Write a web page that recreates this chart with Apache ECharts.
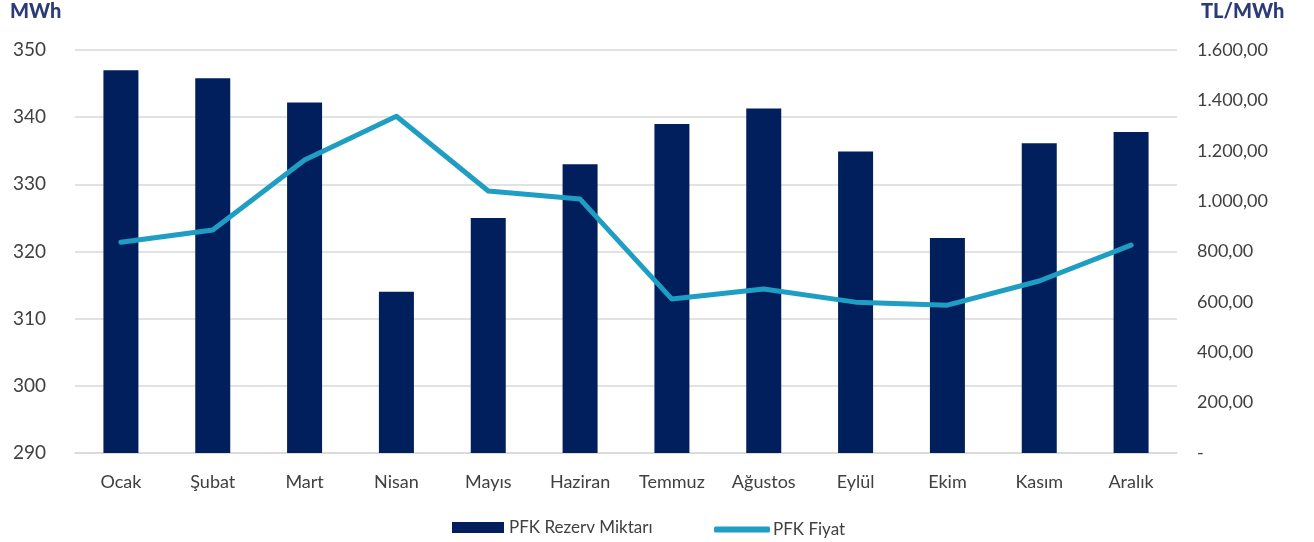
<!DOCTYPE html>
<html><head><meta charset="utf-8">
<script src="https://cdn.jsdelivr.net/npm/echarts@6/dist/echarts.min.js"></script>
<style>html,body{margin:0;padding:0;background:#fff}#c{width:1314px;height:542px}</style>
</head><body><div id="c"></div>
<script>
const categories = ['Ocak','Şubat','Mart','Nisan','Mayıs','Haziran','Temmuz','Ağustos','Eylül','Ekim','Kasım','Aralık'];
const rezervMiktari = [347.0, 345.8, 342.2, 314.0, 325.0, 333.0, 339.0, 341.3, 334.9, 322.0, 336.1, 337.8];
const fiyat = [837, 885, 1163, 1337, 1040, 1008, 611, 651, 599, 587, 683, 825];
const seriesNames = ['PFK Rezerv Miktarı', 'PFK Fiyat'];
const leftUnit = 'MWh';
const rightUnit = 'TL/MWh';

const font = 'Lato, "Open Sans", sans-serif';
const txt = '#404040';
function fmtTL(v){
  if (v === 0) return '-';
  const s = Math.round(v).toString().replace(/\B(?=(\d{3})+(?!\d))/g, '.');
  return s + ',00';
}
const chart = echarts.init(document.getElementById('c'));
chart.setOption({
  backgroundColor: '#ffffff',
  animation: false,
  textStyle: { fontFamily: font },
  title: [
    { text: leftUnit, left: 5, top: -3, textStyle: { fontFamily: font, fontSize: 20, fontWeight: 900, color: '#2b3a78' } },
    { text: rightUnit, left: 1196, top: -3, textStyle: { fontFamily: font, fontSize: 20, fontWeight: 900, color: '#2b3a78' } }
  ],
  grid: { left: 75, right: 137, top: 50, bottom: 89, containLabel: false },
  legend: [
    { data: [{ name: seriesNames[0], icon: 'rect' }], left: 447, top: 514, itemWidth: 52, itemHeight: 11, itemGap: 6,
      textStyle: { fontFamily: font, fontSize: 17, color: txt } },
    { data: [{ name: seriesNames[1], icon: 'roundRect' }], left: 709, top: 516, itemWidth: 56, itemHeight: 6, itemGap: 4,
      textStyle: { fontFamily: font, fontSize: 17, color: txt, padding: [0,0,0,-2] } }
  ],
  xAxis: {
    type: 'category', data: categories,
    axisLine: { show: true, lineStyle: { color: '#d9d9d9', width: 1.5 } },
    axisTick: { show: false },
    axisLabel: { color: txt, fontSize: 18, margin: 20, fontFamily: font }
  },
  yAxis: [
    { type: 'value', min: 290, max: 350, interval: 10,
      axisLine: { show: false }, axisTick: { show: false },
      splitLine: { lineStyle: { color: '#d9d9d9', width: 1.5 } },
      axisLabel: { color: txt, fontSize: 19, margin: 29, fontFamily: font } },
    { type: 'value', min: 0, max: 1600, interval: 200,
      axisLine: { show: false }, axisTick: { show: false }, splitLine: { show: false },
      axisLabel: { color: txt, fontSize: 18, margin: 20, fontFamily: font, formatter: fmtTL } }
  ],
  series: [
    { name: seriesNames[0], type: 'bar', data: rezervMiktari, yAxisIndex: 0, barWidth: 35,
      itemStyle: { color: '#001f5c' } },
    { name: seriesNames[1], type: 'line', data: fiyat, yAxisIndex: 1, smooth: false,
      symbol: 'none', lineStyle: { color: '#1f9ec3', width: 5, cap: 'round', join: 'round' },
      itemStyle: { color: '#1f9ec3' } }
  ]
});
</script></body></html>
